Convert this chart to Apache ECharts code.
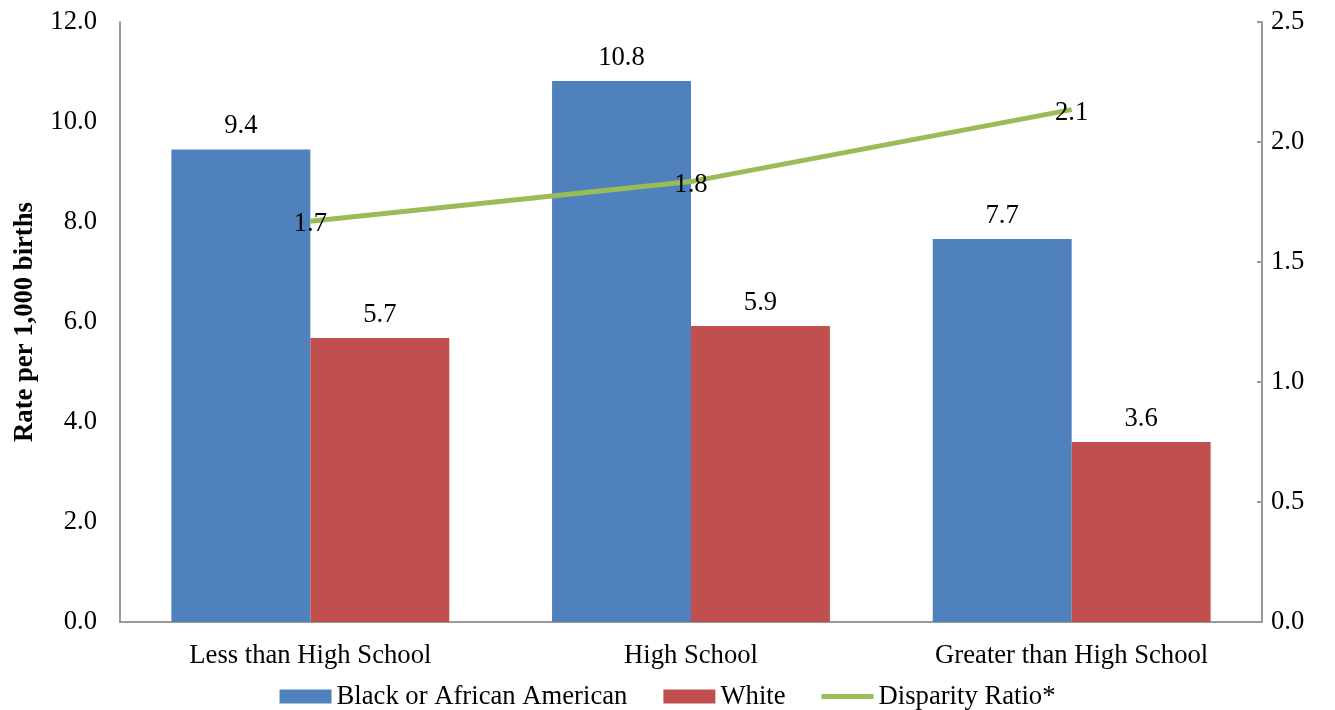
<!DOCTYPE html>
<html><head><meta charset="utf-8">
<script src="https://cdn.jsdelivr.net/npm/echarts@6/dist/echarts.min.js"></script>
<style>html,body{margin:0;padding:0;background:#fff}#c{width:1335px;height:710px}</style>
</head><body><div id="c"></div>
<script>
const categories = ['Less than High School', 'High School', 'Greater than High School'];
const blackRates = [9.45, 10.82, 7.66];
const whiteRates = [5.68, 5.92, 3.6];
const disparity = [1.67, 1.835, 2.135];
const leftTicks = {min: 0, max: 12, interval: 2};
const rightTicks = {min: 0, max: 2.5, interval: 0.5};

const font = 'Liberation Serif';
const fs = 26.67;
const chart = echarts.init(document.getElementById('c'));
chart.setOption({
  animation: false,
  textStyle: {fontFamily: font},
  grid: {left: 120, right: 73, top: 22, bottom: 88, outerBoundsMode: 'none', containLabel: false},
  legend: {
    top: 678, left: 'center', itemWidth: 52, itemHeight: 14, itemGap: 36,
    textStyle: {fontFamily: font, fontSize: fs, color: '#000'},
    data: [
      {name: 'Black or African American', icon: 'rect'},
      {name: 'White', icon: 'rect'},
      {name: 'Disparity Ratio*', icon: 'path://M0,0 L52,0 L52,5 L0,5 Z', itemStyle: {color: '#9BBB59'}}
    ]
  },
  xAxis: {
    type: 'category', data: categories,
    axisLine: {lineStyle: {color: '#999', width: 2}},
    axisTick: {show: false},
    axisLabel: {fontFamily: font, fontSize: fs, color: '#000', margin: 20}
  },
  yAxis: [
    {
      type: 'value', min: leftTicks.min, max: leftTicks.max, interval: leftTicks.interval,
      name: 'Rate per 1,000 births', nameLocation: 'middle', nameGap: 81, nameMoveOverlap: false,
      nameTextStyle: {fontFamily: font, fontSize: fs, fontWeight: 'bold', color: '#000'},
      axisLine: {show: true, lineStyle: {color: '#999', width: 2}},
      axisTick: {show: false}, splitLine: {show: false},
      axisLabel: {fontFamily: font, fontSize: fs, color: '#000', margin: 23, formatter: v => v.toFixed(1)}
    },
    {
      type: 'value', min: rightTicks.min, max: rightTicks.max, interval: rightTicks.interval,
      position: 'right',
      axisLine: {show: true, lineStyle: {color: '#999', width: 2}},
      axisTick: {show: true, inside: true, length: 5, lineStyle: {color: '#999', width: 2}},
      splitLine: {show: false},
      axisLabel: {fontFamily: font, fontSize: fs, color: '#000', margin: 9, formatter: v => v.toFixed(1)}
    }
  ],
  series: [
    {
      name: 'Black or African American', type: 'bar', data: blackRates,
      barGap: '0%', barCategoryGap: '27%',
      itemStyle: {color: '#4F81BD'},
      label: {show: true, position: 'top', distance: 10, fontFamily: font, fontSize: fs, color: '#000', formatter: p => p.value.toFixed(1)}
    },
    {
      name: 'White', type: 'bar', data: whiteRates,
      itemStyle: {color: '#C0504D'},
      label: {show: true, position: 'top', distance: 10, fontFamily: font, fontSize: fs, color: '#000', formatter: p => p.value.toFixed(1)}
    },
    {
      name: 'Disparity Ratio*', type: 'line', yAxisIndex: 1, data: disparity,
      symbol: 'circle', symbolSize: 1, showSymbol: true,
      lineStyle: {color: '#9BBB59', width: 5},
      itemStyle: {color: 'rgba(0,0,0,0)'},
      label: {show: true, position: 'inside', offset: [0, 3], fontFamily: font, fontSize: fs, color: '#000', formatter: p => p.value.toFixed(1)},
      z: 5
    }
  ]
});
</script></body></html>
